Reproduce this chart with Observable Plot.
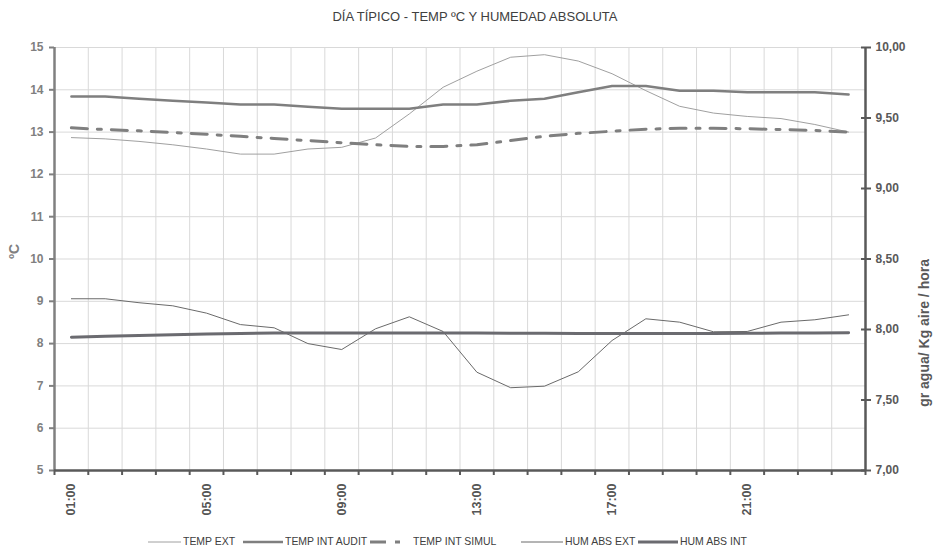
<!DOCTYPE html>
<html><head><meta charset="utf-8">
<script src="https://cdn.jsdelivr.net/npm/d3@7"></script>
<script src="https://cdn.jsdelivr.net/npm/@observablehq/plot@0.6"></script>
<style>
body{margin:0;background:#fff;font-family:"Liberation Sans",Arial,sans-serif;}
#wrap{position:relative;width:939px;height:551px;overflow:hidden;background:#fff;}
#title{position:absolute;top:9px;left:0;width:950px;text-align:center;font-size:13px;color:#404040;}
#chart{position:absolute;top:35px;left:0;}
#legend{position:absolute;top:534px;left:0;width:939px;height:16px;font-size:11.5px;color:#404040;white-space:nowrap;}
#legend span{transform:scaleX(0.91);transform-origin:left center;display:inline-block;}
</style></head>
<body>
<div id="wrap">
  <div id="title">DÍA TÍPICO - TEMP ºC Y HUMEDAD ABSOLUTA</div>
  <div id="chart"></div>
  <div id="legend"></div>
</div>
<script>
// Categories
const hours = ["01:00","02:00","03:00","04:00","05:00","06:00","07:00","08:00","09:00","10:00","11:00","12:00",
               "13:00","14:00","15:00","16:00","17:00","18:00","19:00","20:00","21:00","22:00","23:00","24:00"];
const xTickLabels = ["01:00","05:00","09:00","13:00","17:00","21:00"];
const leftTicks = [5,6,7,8,9,10,11,12,13,14,15];
const rightTicks = [7,7.5,8,8.5,9,9.5,10];

// Series (left axis, ºC)
const tempExt      = [12.87,12.84,12.78,12.70,12.60,12.48,12.48,12.60,12.64,12.86,13.43,14.06,14.44,14.77,14.83,14.68,14.38,13.98,13.61,13.45,13.37,13.32,13.18,13.00];
const tempIntAudit = [13.84,13.84,13.79,13.74,13.70,13.65,13.65,13.60,13.55,13.55,13.55,13.65,13.65,13.74,13.79,13.94,14.09,14.09,13.98,13.98,13.94,13.94,13.94,13.89];
const tempIntSimul = [13.10,13.06,13.03,12.99,12.95,12.90,12.85,12.80,12.75,12.70,12.66,12.66,12.70,12.80,12.90,12.97,13.02,13.07,13.09,13.09,13.08,13.06,13.04,13.00];
// Series (right axis, gr agua / Kg aire / hora)
const humAbsExt = [8.218,8.218,8.190,8.168,8.116,8.035,8.012,7.900,7.858,8.005,8.090,7.986,7.697,7.587,7.598,7.700,7.922,8.076,8.052,7.984,7.986,8.052,8.069,8.104];
const humAbsInt = [7.945,7.952,7.958,7.963,7.968,7.972,7.975,7.976,7.976,7.976,7.976,7.976,7.975,7.974,7.973,7.972,7.971,7.971,7.971,7.972,7.973,7.975,7.976,7.977];

const seriesNames = ["TEMP EXT","TEMP INT AUDIT","TEMP INT SIMUL","HUM ABS EXT","HUM ABS INT"];
const seriesStyle = [
  {stroke:"#a0a0a0", strokeWidth:1},
  {stroke:"#7f7f7f", strokeWidth:2.5},
  {stroke:"#7f7f7f", strokeWidth:3, strokeDasharray:"16,10,4,10"},
  {stroke:"#6a6a6a", strokeWidth:1},
  {stroke:"#6b6b70", strokeWidth:3}
];
// legend layout: [sample left, sample width, label left]
const legendLayout = [[148,33,183],[243,40,285],[370,38,413],[521,42,565],[638,40,680]];

// map secondary axis value onto primary scale: 7..10 -> 5..15
const toLeft = h => 5 + (h - 7) * 10 / 3;
const fmtR = v => v.toFixed(2).replace(".", ",");

const data = hours.map((h, i) => ({
  i: i + 1, hour: h,
  tempExt: tempExt[i], tempIntAudit: tempIntAudit[i], tempIntSimul: tempIntSimul[i],
  humAbsExt: toLeft(humAbsExt[i]), humAbsInt: toLeft(humAbsInt[i])
}));
const keys = ["tempExt","tempIntAudit","tempIntSimul","humAbsExt","humAbsInt"];

const boundaries = d3.range(0.5, hours.length + 1, 1);
const innerBoundaries = boundaries.filter(b => b > 0.5 && b < hours.length + 0.5);

const chart = Plot.plot({
  width: 939, height: 490,
  marginTop: 12, marginBottom: 55, marginLeft: 54, marginRight: 74,
  x: {domain: [0.5, hours.length + 0.5], axis: null},
  y: {domain: [5, 15], axis: null},
  style: {fontFamily: "'Liberation Sans', Arial, sans-serif", fontSize: "12px", fontWeight: "bold", background: "white", overflow: "visible"},
  marks: [
    Plot.gridY(leftTicks, {stroke: "#d9d9d9", strokeOpacity: 1, strokeWidth: 1}),
    Plot.gridX(innerBoundaries, {stroke: "#d9d9d9", strokeOpacity: 1, strokeWidth: 1}),
    ...keys.map((k, j) => Plot.line(data, {x: "i", y: k, ...seriesStyle[j]})),
    // axis lines
    Plot.ruleX([0.5], {stroke: "#808080", strokeWidth: 2.5}),
    Plot.ruleX([hours.length + 0.5], {stroke: "#595959", strokeWidth: 2.5}),
    Plot.ruleY([5], {stroke: "#595959", strokeWidth: 2.5}),
    // left axis
    Plot.axisY(leftTicks, {anchor: "left", tickSize: 5, tickPadding: 6, color: "#808080", strokeWidth: 2, label: null}),
    // right axis (crossing ticks + labels)
    Plot.axisY(rightTicks.map(toLeft), {anchor: "right", tickSize: 10, dx: -5, tickFormat: () => "", color: "#595959", strokeWidth: 2, label: null}),
    Plot.axisY(rightTicks.map(toLeft), {anchor: "right", tickSize: 0, tickPadding: 10, tickFormat: v => fmtR((v - 5) * 3 / 10 + 7), color: "#595959", label: null}),
    // bottom axis ticks & labels
    Plot.axisX(boundaries, {anchor: "bottom", tickSize: 5, tickFormat: () => "", color: "#595959", strokeWidth: 2, label: null}),
    Plot.axisX(xTickLabels.map(l => hours.indexOf(l) + 1), {anchor: "bottom", tickSize: 0, tickPadding: 13, tickRotate: -90, tickFormat: i => hours[i - 1], color: "#555555", fontSize: 12.5, label: null}),
    // axis titles
    Plot.text(["ºC"], {text: d => d, frameAnchor: "left", dx: -40, rotate: -90, fontSize: 14, fill: "#808080"}),
    Plot.text(["gr agua/ Kg aire / hora"], {text: d => d, frameAnchor: "right", dx: 59, rotate: -90, fontSize: 14, fill: "#595959"})
  ]
});
document.getElementById("chart").appendChild(chart);

// legend
const legend = d3.select("#legend");
seriesNames.forEach((name, j) => {
  const [sx, sw, lx] = legendLayout[j];
  const st = seriesStyle[j];
  const s = legend.append("svg").style("position", "absolute").style("left", sx + "px").style("top", "3px")
    .attr("width", sw).attr("height", 10);
  s.append("line").attr("x1", 0).attr("x2", sw).attr("y1", 5).attr("y2", 5)
    .attr("stroke", st.stroke).attr("stroke-width", st.strokeWidth)
    .attr("stroke-dasharray", st.strokeDasharray ? "16,9,5,10" : null);
  legend.append("span").style("position", "absolute").style("left", lx + "px").style("top", "1px").text(name);
});
</script>
</body></html>
